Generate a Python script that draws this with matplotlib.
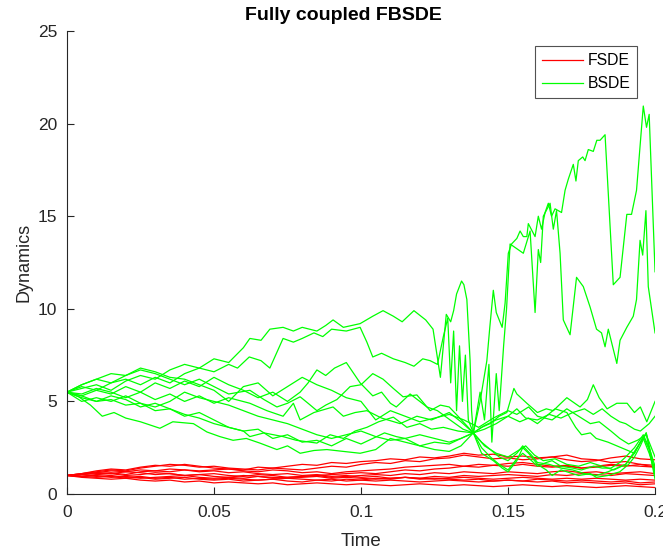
import numpy as np
import matplotlib
matplotlib.use("Agg")
import matplotlib.pyplot as plt

plt.rcParams['font.family'] = ['Liberation Sans', 'DejaVu Sans']

title = "Fully coupled FBSDE"
xlabel = "Time"
ylabel = "Dynamics"
legend_labels = ["FSDE", "BSDE"]
x_ticks = [0, 0.05, 0.1, 0.15, 0.2]
x_ticklabels = ["0", "0.05", "0.1", "0.15", "0.2"]
y_ticks = [0, 5, 10, 15, 20, 25]

# FSDE paths (values on an even time grid 0..0.2)
fsde_1 = [1.0, 1.05, 1.1, 1.15, 1.05, 1.2, 1.25, 1.2, 1.3, 1.25, 1.3, 1.35, 1.3, 1.45, 1.4, 1.5, 1.6, 1.55, 1.7, 1.65, 1.75,
          1.8, 1.9, 1.85, 2.0, 1.95, 2.05, 2.2, 2.1, 2.15, 2.0, 2.05, 1.95, 2.0, 2.1, 1.9, 1.85, 1.7, 1.75, 1.6, 1.55]
fsde_2 = [1.0, 1.1, 1.2, 1.3, 1.25, 1.4, 1.5, 1.6, 1.55, 1.45, 1.5, 1.4, 1.35, 1.3, 1.4, 1.35, 1.3, 1.4, 1.5, 1.45, 1.6,
          1.7, 1.65, 1.8, 1.75, 1.9, 1.95, 2.1, 2.0, 1.9, 1.95, 1.85, 1.9, 2.0, 1.85, 1.75, 1.8, 1.95, 2.05, 1.9, 1.85]
fsde_3 = [1.0, 1.1, 1.25, 1.35, 1.3, 1.45, 1.55, 1.5, 1.6, 1.5, 1.4, 1.35, 1.25, 1.2, 1.3, 1.25, 1.15, 1.2, 1.1, 1.2, 1.25,
          1.3, 1.35, 1.45, 1.5, 1.55, 1.6, 1.5, 1.6, 1.55, 1.65, 1.7, 1.6, 1.5, 1.55, 1.4, 1.5, 1.6, 1.55, 1.5, 1.45]
fsde_4 = [1.0, 0.95, 1.05, 1.1, 1.0, 1.05, 1.15, 1.1, 1.0, 1.05, 0.95, 0.9, 1.0, 0.95, 0.85, 0.9, 0.95, 1.0, 0.9, 0.95, 1.0,
          1.05, 1.0, 1.1, 1.05, 1.15, 1.1, 1.2, 1.15, 1.1, 1.2, 1.15, 1.1, 1.2, 1.25, 1.15, 1.2, 1.1, 1.15, 1.2, 1.1]
fsde_5 = [1.0, 0.95, 0.9, 0.95, 0.85, 0.9, 0.8, 0.85, 0.9, 0.8, 0.75, 0.8, 0.7, 0.75, 0.8, 0.7, 0.65, 0.75, 0.7, 0.8, 0.75,
          0.85, 0.8, 0.9, 0.85, 0.95, 0.9, 1.0, 0.95, 1.0, 1.05, 1.0, 0.95, 1.05, 1.0, 1.1, 1.05, 1.0, 1.1, 1.05, 1.0]
fsde_6 = [1.0, 0.9, 0.85, 0.8, 0.85, 0.75, 0.7, 0.75, 0.65, 0.7, 0.6, 0.65, 0.6, 0.55, 0.6, 0.5, 0.55, 0.6, 0.55, 0.5, 0.55,
          0.5, 0.45, 0.5, 0.55, 0.5, 0.45, 0.5, 0.45, 0.4, 0.45, 0.5, 0.45, 0.4, 0.45, 0.4, 0.35, 0.4, 0.45, 0.4, 0.35]
fsde_7 = [1.0, 1.05, 0.95, 1.0, 0.9, 0.95, 0.85, 0.9, 0.8, 0.85, 0.8, 0.85, 0.8, 0.75, 0.8, 0.85, 0.8, 0.75, 0.8, 0.7, 0.75,
          0.7, 0.75, 0.7, 0.65, 0.7, 0.75, 0.7, 0.65, 0.7, 0.75, 0.7, 0.8, 0.75, 0.7, 0.75, 0.7, 0.65, 0.7, 0.6, 0.65]
fsde_8 = [1.0, 1.1, 1.15, 1.25, 1.2, 1.3, 1.25, 1.35, 1.3, 1.2, 1.25, 1.15, 1.2, 1.1, 1.05, 1.1, 1.0, 1.05, 0.95, 1.0, 0.9,
          0.95, 0.85, 0.9, 0.8, 0.85, 0.8, 0.75, 0.8, 0.7, 0.75, 0.7, 0.65, 0.7, 0.6, 0.65, 0.6, 0.55, 0.6, 0.5, 0.55]
fsde_9 = [1.0, 0.95, 1.0, 0.9, 0.95, 0.85, 0.9, 0.95, 1.0, 0.9, 0.85, 0.9, 0.85, 0.95, 0.9, 0.85, 0.9, 0.95, 0.85, 0.9, 0.85,
          0.8, 0.85, 0.9, 0.85, 0.8, 0.85, 0.9, 0.85, 0.8, 0.85, 0.9, 0.85, 0.8, 0.85, 0.8, 0.85, 0.8, 0.75, 0.8, 0.75]
fsde_10 = [1.0, 1.05, 1.15, 1.1, 1.2, 1.15, 1.05, 1.1, 1.0, 1.05, 1.1, 1.0, 0.95, 1.05, 1.0, 0.9, 0.95, 1.0, 1.05, 1.1, 1.15,
           1.1, 1.2, 1.3, 1.25, 1.35, 1.4, 1.5, 1.45, 1.55, 1.5, 1.6, 1.5, 1.45, 1.5, 1.4, 1.45, 1.55, 1.5, 1.6, 1.45]

# BSDE paths as (time, value) pairs
bsde_1 = [(0, 5.5), (.004, 5.25), (.008, 4.8), (.012, 4.2), (.016, 4.4), (.02, 4.1), (.025, 3.9), (.0316, 3.55), (.036, 3.9),
          (.043, 3.8), (.0476, 3.35), (.052, 3.1), (.0565, 2.9), (.061, 3.0), (.0656, 2.75), (.0714, 2.4), (.075, 2.6),
          (.0793, 2.2), (.084, 2.35), (.0884, 2.4), (.094, 2.3), (.0997, 2.2), (.105, 2.4), (.11, 3.0), (.115, 2.8),
          (.12, 2.6), (.125, 2.4), (.13, 2.3), (.134, 2.6), (.1382, 3.3), (.1405, 5.0), (.1428, 7.2), (.1438, 9.0),
          (.145, 11.0), (.146, 9.8), (.148, 9.0), (.149, 10.3), (.1501, 13.0), (.1512, 13.5), (.153, 13.8), (.1541, 14.2),
          (.1552, 13.9), (.1564, 13.9), (.1569, 14.6), (.1592, 13.9), (.1603, 15.0), (.1614, 14.3), (.1626, 15.2),
          (.1637, 15.7), (.1648, 15.0), (.166, 15.4), (.1671, 15.3), (.1682, 15.2), (.1694, 16.4), (.1705, 17.0),
          (.1722, 17.8), (.1731, 16.9), (.1739, 18.0), (.1754, 18.2), (.1762, 18.0), (.1773, 18.6), (.179, 18.5),
          (.1802, 19.1), (.1813, 19.1), (.183, 19.4), (.1858, 11.3), (.1881, 11.7), (.1904, 15.1), (.192, 15.1),
          (.1937, 16.4), (.196, 20.95), (.1971, 19.8), (.198, 20.5), (.2, 12.0)]
bsde_2 = [(0, 5.5), (.005, 5.2), (.01, 5.0), (.015, 5.1), (.02, 4.8), (.025, 4.9), (.03, 4.5), (.035, 4.6), (.04, 4.3),
          (.045, 4.1), (.05, 3.8), (.055, 3.6), (.06, 3.4), (.065, 3.5), (.07, 3.0), (.075, 3.2), (.08, 2.8), (.085, 2.9),
          (.09, 2.6), (.095, 3.0), (.1, 2.7), (.104, 3.0), (.108, 3.3), (.112, 3.1), (.115, 3.0), (.12, 2.6), (.125, 2.8),
          (.13, 2.7), (.134, 3.0), (.1382, 3.3), (.1405, 5.5), (.142, 4.0), (.1435, 7.0), (.1445, 2.8), (.146, 6.5),
          (.147, 4.5), (.1485, 8.0), (.1495, 10.0), (.1507, 13.5), (.1552, 13.0), (.1575, 14.2), (.1592, 9.8),
          (.1603, 13.2), (.1611, 12.5), (.162, 15.0), (.1643, 15.7), (.1654, 14.3), (.1665, 15.3), (.1677, 13.0),
          (.1688, 9.4), (.1711, 8.6), (.1733, 11.7), (.1756, 11.2), (.1779, 10.1), (.1801, 8.9), (.1818, 8.7),
          (.183, 7.95), (.1841, 8.9), (.187, 7.05), (.1881, 8.3), (.1904, 9.0), (.1926, 9.6), (.1937, 10.5),
          (.1949, 13.7), (.1958, 12.9), (.1969, 15.3), (.1977, 11.2), (.2, 8.7)]
bsde_3 = [(0, 5.5), (.005, 5.7), (.01, 5.9), (.015, 5.6), (.02, 6.1), (.025, 6.4), (.03, 6.2), (.035, 6.7), (.04, 7.0),
          (.045, 6.8), (.05, 7.3), (.055, 7.1), (.06, 7.9), (.0622, 8.4), (.066, 8.3), (.069, 8.9), (.0735, 9.0),
          (.077, 8.8), (.08, 9.0), (.085, 8.8), (.088, 9.1), (.0905, 9.4), (.094, 9.0), (.0997, 9.2), (.104, 9.6),
          (.1075, 9.9), (.111, 9.6), (.114, 9.3), (.118, 9.9), (.122, 9.4), (.1245, 8.9), (.127, 6.3), (.129, 9.7),
          (.1305, 9.3), (.1315, 9.9), (.1325, 10.8), (.1342, 11.5), (.135, 11.3), (.136, 10.5), (.1371, 7.2),
          (.1376, 4.5), (.1382, 3.3), (.141, 2.2), (.145, 1.8), (.148, 1.4), (.15, 1.2), (.153, 1.8), (.155, 2.5),
          (.157, 2.2), (.16, 1.6), (.163, 1.3), (.165, 1.0), (.168, 1.3), (.17, 1.2), (.174, 1.0), (.178, 1.1),
          (.18, 0.9), (.184, 1.0), (.188, 1.2), (.191, 1.6), (.193, 2.0), (.195, 2.6), (.197, 3.3), (.1985, 2.0),
          (.2, 0.8)]
bsde_4 = [(0, 5.5), (.005, 5.8), (.01, 5.6), (.015, 6.0), (.02, 6.2), (.025, 5.9), (.03, 6.3), (.035, 6.0), (.04, 6.5),
          (.045, 6.8), (.05, 6.6), (.055, 7.0), (.058, 6.8), (.062, 7.4), (.066, 7.2), (.069, 6.8), (.0735, 8.4),
          (.077, 8.2), (.08, 8.4), (.084, 8.7), (.087, 8.5), (.09, 8.9), (.095, 8.8), (.0997, 9.0), (.102, 8.2),
          (.104, 7.4), (.107, 7.6), (.111, 7.3), (.115, 7.1), (.118, 6.9), (.121, 7.3), (.1235, 7.2), (.126, 7.0),
          (.128, 8.5), (.1295, 9.5), (.1305, 6.0), (.1315, 8.8), (.1325, 4.5), (.1335, 8.0), (.1345, 5.0),
          (.1355, 7.5), (.1365, 4.0), (.1382, 3.3), (.141, 2.5), (.144, 2.0), (.147, 1.6), (.15, 1.3), (.153, 1.9),
          (.155, 2.2), (.158, 1.8), (.16, 1.5), (.163, 1.7), (.165, 1.8), (.168, 1.5), (.172, 1.4), (.175, 1.3),
          (.179, 1.5), (.182, 1.4), (.185, 1.4), (.188, 1.7), (.19, 2.0), (.193, 2.5), (.196, 3.2), (.198, 2.5),
          (.2, 1.5)]
bsde_5 = [(0, 5.5), (.005, 5.3), (.01, 5.6), (.015, 5.4), (.02, 5.8), (.025, 5.5), (.03, 6.0), (.035, 5.7), (.04, 6.1),
          (.045, 5.8), (.05, 6.3), (.055, 5.9), (.06, 5.6), (.065, 5.2), (.07, 5.5), (.075, 5.0), (.0793, 5.5),
          (.082, 6.0), (.085, 6.7), (.088, 6.4), (.091, 6.8), (.095, 7.1), (.0997, 6.0), (.104, 5.3), (.107, 5.5),
          (.11, 4.9), (.112, 4.7), (.1167, 5.4), (.12, 5.0), (.1224, 4.7), (.126, 4.5), (.1303, 4.0), (.1347, 3.5),
          (.1382, 3.3), (.141, 2.8), (.144, 2.4), (.147, 2.0), (.15, 1.8), (.153, 2.2), (.155, 2.6), (.158, 2.1),
          (.16, 1.7), (.164, 1.6), (.168, 1.4), (.172, 1.3), (.176, 1.1), (.18, 1.0), (.184, 1.2), (.187, 1.4),
          (.19, 1.6), (.193, 2.3), (.196, 3.0), (.198, 2.2), (.2, 1.2)]
bsde_6 = [(0, 5.5), (.005, 5.9), (.01, 6.2), (.015, 6.0), (.02, 6.4), (.025, 6.7), (.03, 6.5), (.035, 6.2), (.04, 5.9),
          (.045, 6.2), (.05, 5.8), (.055, 5.4), (.0622, 5.6), (.067, 5.1), (.0714, 4.7), (.075, 4.9), (.0793, 5.25),
          (.082, 4.9), (.085, 4.5), (.088, 4.8), (.0918, 5.1), (.0963, 5.8), (.1, 5.9), (.102, 6.2), (.104, 6.5),
          (.1075, 6.2), (.111, 5.7), (.1143, 5.25), (.119, 5.35), (.1235, 4.5), (.127, 4.8), (.13, 4.7), (.133, 4.2),
          (.1382, 3.3), (.141, 3.6), (.1439, 3.8), (.147, 4.2), (.1496, 4.4), (.152, 5.7), (.153, 5.4), (.1564, 4.9),
          (.16, 4.4), (.163, 4.6), (.1654, 4.5), (.168, 4.9), (.17, 5.2), (.1745, 4.7), (.177, 5.1), (.179, 5.9),
          (.181, 5.2), (.1837, 4.6), (.187, 4.9), (.1905, 4.9), (.193, 4.4), (.195, 4.7), (.1972, 3.9), (.2, 5.0)]
bsde_7 = [(0, 5.5), (.005, 5.4), (.01, 5.7), (.015, 5.5), (.02, 5.2), (.025, 5.5), (.03, 5.1), (.035, 5.4), (.04, 5.0),
          (.045, 5.3), (.05, 4.9), (.055, 5.2), (.0622, 4.9), (.068, 4.5), (.0735, 4.2), (.077, 4.9), (.0793, 4.0),
          (.084, 4.4), (.0905, 4.7), (.094, 4.2), (.098, 4.4), (.102, 4.5), (.107, 4.1), (.1133, 3.8), (.119, 4.2),
          (.124, 4.0), (.13, 4.4), (.134, 3.9), (.1382, 3.3), (.142, 3.7), (.146, 4.0), (.15, 4.2), (.153, 4.6),
          (.156, 4.1), (.16, 4.0), (.164, 4.3), (.168, 4.1), (.172, 4.4), (.176, 4.6), (.179, 4.3), (.182, 4.6),
          (.185, 4.2), (.188, 3.9), (.19, 3.8), (.193, 3.5), (.195, 3.4), (.198, 3.8), (.2, 4.2)]
bsde_8 = [(0, 5.5), (.005, 5.3), (.01, 5.0), (.015, 5.3), (.02, 5.1), (.025, 4.7), (.03, 4.9), (.035, 4.6), (.04, 4.2),
          (.045, 4.4), (.05, 4.0), (.055, 3.6), (.06, 3.4), (.0622, 3.1), (.067, 3.3), (.0735, 3.1), (.078, 2.9),
          (.085, 2.75), (.0895, 3.2), (.094, 3.0), (.098, 3.4), (.102, 3.6), (.106, 3.9), (.111, 4.15), (.1156, 3.6),
          (.12, 3.8), (.124, 3.5), (.128, 3.6), (.133, 3.4), (.1382, 3.3), (.142, 3.5), (.146, 3.8), (.15, 4.2),
          (.154, 3.9), (.157, 4.1), (.16, 3.8), (.163, 4.2), (.166, 4.6), (.17, 4.4), (.173, 3.6), (.175, 3.2),
          (.178, 3.3), (.18, 3.0), (.184, 2.8), (.187, 2.6), (.19, 2.4), (.193, 2.2), (.195, 2.8), (.197, 3.3),
          (.2, 1.2)]
bsde_9 = [(0, 5.5), (.005, 5.0), (.01, 5.2), (.015, 5.0), (.02, 5.3), (.025, 4.9), (.03, 4.7), (.035, 5.0), (.04, 5.5),
          (.045, 5.2), (.05, 5.0), (.055, 4.8), (.06, 4.5), (.065, 4.2), (.07, 4.0), (.075, 3.8), (.08, 3.5),
          (.085, 3.2), (.09, 3.0), (.095, 3.2), (.1, 3.4), (.105, 3.1), (.11, 2.9), (.115, 3.0), (.12, 3.2),
          (.125, 3.0), (.13, 2.8), (.134, 3.0), (.1382, 3.3), (.142, 2.6), (.146, 2.2), (.15, 2.0), (.153, 2.3),
          (.156, 2.6), (.159, 2.1), (.162, 1.8), (.166, 1.9), (.17, 1.6), (.174, 1.5), (.178, 1.7), (.182, 1.5),
          (.186, 1.3), (.19, 1.6), (.193, 2.2), (.196, 3.1), (.198, 2.4), (.2, 1.0)]
bsde_10 = [(0, 5.5), (.005, 5.9), (.01, 6.2), (.015, 6.5), (.02, 6.4), (.025, 6.8), (.03, 6.6), (.035, 6.3), (.04, 6.2),
           (.045, 5.9), (.05, 5.6), (.055, 5.0), (.06, 5.8), (.065, 6.0), (.07, 5.3), (.075, 5.8), (.08, 6.3),
           (.085, 5.9), (.09, 5.6), (.095, 5.2), (.1, 5.0), (.105, 4.0), (.11, 4.5), (.115, 4.2), (.12, 3.9),
           (.125, 4.1), (.13, 4.3), (.135, 4.0), (.14, 3.6), (.145, 4.1), (.15, 4.5), (.153, 4.3), (.157, 4.7),
           (.16, 4.2), (.165, 4.0), (.17, 4.6), (.174, 4.2), (.178, 3.8), (.181, 3.9), (.185, 3.4), (.188, 3.0),
           (.191, 2.7), (.194, 2.9), (.197, 3.2), (.2, 2.0)]

fsde_paths = [fsde_1, fsde_2, fsde_3, fsde_4, fsde_5, fsde_6, fsde_7, fsde_8, fsde_9, fsde_10]
bsde_paths = [bsde_1, bsde_2, bsde_3, bsde_4, bsde_5, bsde_6, bsde_7, bsde_8, bsde_9, bsde_10]

txt = '#262626'
fig = plt.figure(figsize=(6.63, 5.5), dpi=100)
ax = fig.add_axes([0.101, 0.1018, 0.887, 0.8418])

lw = 0.9
for i, p in enumerate(fsde_paths):
    t = np.linspace(0, 0.2, len(p))
    ax.plot(t, p, color='#FF0000', lw=lw, label=legend_labels[0] if i == 0 else None)
for i, p in enumerate(bsde_paths):
    arr = np.array(p)
    ax.plot(arr[:, 0], arr[:, 1], color='#00FF00', lw=lw, label=legend_labels[1] if i == 0 else None)

ax.set_xlim(0, 0.2)
ax.set_ylim(0, 25)
ax.set_xticks(x_ticks)
ax.set_xticklabels(x_ticklabels)
ax.set_yticks(y_ticks)
for s in ['top', 'right']:
    ax.spines[s].set_visible(False)
for s in ['left', 'bottom']:
    ax.spines[s].set_color(txt)
    ax.spines[s].set_linewidth(0.8)
ax.tick_params(direction='in', length=5, width=0.8, colors=txt, labelsize=12.5)
ax.tick_params(axis='x', pad=8)
ax.tick_params(axis='y', pad=7)
fig.text(343 / 663, 1 - 15 / 550, title, fontsize=14, fontweight='bold', color='black',
         ha='center', va='center')
ax.set_xlabel(xlabel, fontsize=13.5, color=txt, labelpad=9)
ax.set_ylabel(ylabel, fontsize=13, color=txt, labelpad=4)

leg = ax.legend(loc='upper right', bbox_to_anchor=(0.97, 0.967), fontsize=11.3, frameon=True,
                fancybox=False, edgecolor=txt, handlelength=2.6, borderpad=0.45, labelspacing=0.5,
                handletextpad=0.3, borderaxespad=0)
leg.get_frame().set_linewidth(0.8)
for t in leg.get_texts():
    t.set_color('black')

fig.savefig('out.png', dpi=100)
